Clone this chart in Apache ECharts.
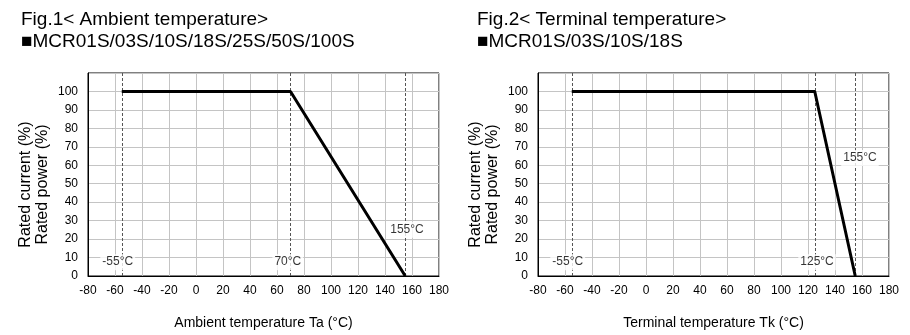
<!DOCTYPE html>
<html>
<head>
<meta charset="utf-8">
<script src="https://cdn.jsdelivr.net/npm/echarts@6/dist/echarts.min.js"></script>
<style>
html,body{margin:0;padding:0;background:#fff;}
#c{width:910px;height:335px;}
</style>
</head>
<body>
<div id="c"></div>
<script>
// ---- data ----
var titles1 = ["Fig.1< Ambient temperature>", "\u25A0MCR01S/03S/10S/18S/25S/50S/100S"];
var titles2 = ["Fig.2< Terminal temperature>", "\u25A0MCR01S/03S/10S/18S"];
var xNames = ["Ambient temperature Ta (\u00B0C)", "Terminal temperature Tk (\u00B0C)"];
var yName = "Rated current (%)\nRated power (%)";
var xRange = [-80, 180, 20];
var yRange = [0, 110, 10];
var curve1 = [[-55, 100], [70, 100], [155, 0]];
var curve2 = [[-55, 100], [125, 100], [155, 0]];
var marks1 = [-55, 70, 155];
var marks2 = [-55, 125, 155];
var labels1 = [[-58, 7.5, "-55\u00B0C"], [68, 7.5, "70\u00B0C"], [156.3, 25, "155\u00B0C"]];
var labels2 = [[-58, 7.5, "-55\u00B0C"], [126.7, 7.5, "125\u00B0C"], [158.5, 64, "155\u00B0C"]];

var FONT = "Arial, 'Liberation Sans', sans-serif";
var chart = echarts.init(document.getElementById('c'), null, {renderer: 'canvas'});

function xAxis(i) {
  return {
    type: 'value', gridIndex: i, min: xRange[0], max: xRange[1], interval: xRange[2],
    name: xNames[i], nameLocation: 'middle', nameGap: 40,
    nameTextStyle: {fontFamily: FONT, fontSize: 14, color: '#000'},
    axisLine: {show: true, onZero: false, lineStyle: {color: '#000', width: 1}},
    axisTick: {show: false},
    axisLabel: {fontFamily: FONT, fontSize: 12, color: '#000', margin: 9},
    splitLine: {show: true, lineStyle: {color: '#c4c4c4', width: 1}}
  };
}
function yAxis(i) {
  return {
    type: 'value', gridIndex: i, min: yRange[0], max: yRange[1], interval: yRange[2],
    name: yName, nameLocation: 'middle', nameGap: 37, nameRotate: 90,
    nameTextStyle: {fontFamily: FONT, fontSize: 16, lineHeight: 17, color: '#000', padding: [0, 20, 0, 0]},
    axisLine: {show: true, onZero: false, lineStyle: {color: '#000', width: 1}},
    axisTick: {show: false},
    axisLabel: {fontFamily: FONT, fontSize: 12, color: '#000', margin: 10,
      formatter: function (v) { return v >= yRange[1] ? '' : String(v); }},
    splitLine: {show: true, lineStyle: {color: '#c4c4c4', width: 1}}
  };
}
function curveSeries(i, data, marks) {
  return {
    type: 'line', xAxisIndex: i, yAxisIndex: i, data: data, symbol: 'none',
    lineStyle: {color: '#000', width: 3}, z: 5, animation: false,
    markLine: {
      silent: true, symbol: 'none', animation: false, z: 1,
      lineStyle: {type: [3, 2], color: '#555', width: 1},
      label: {show: false},
      data: marks.map(function (m) { return [{coord: [m, yRange[0]]}, {coord: [m, yRange[1]]}]; })
    }
  };
}
function labelSeries(i, labels) {
  return {
    type: 'scatter', xAxisIndex: i, yAxisIndex: i, symbolSize: 1, z: 20, animation: false,
    itemStyle: {color: 'rgba(0,0,0,0)'},
    data: labels.map(function (l) { return {value: [l[0], l[1]], name: l[2]}; }),
    label: {show: true, position: 'inside', formatter: function (p) { return p.name; },
      fontFamily: FONT, fontSize: 12, color: '#000', backgroundColor: '#ffffff', padding: [2, 2]}
  };
}

chart.setOption({
  backgroundColor: '#fff',
  animation: false,
  title: [
    {text: titles1.join('\n'), left: 16, top: 4, textStyle: {fontFamily: FONT, fontSize: 19, fontWeight: 'normal', color: '#000', lineHeight: 22}},
    {text: titles2.join('\n'), left: 472, top: 4, textStyle: {fontFamily: FONT, fontSize: 19, fontWeight: 'normal', color: '#000', lineHeight: 22}}
  ],
  grid: [
    {left: 88, top: 73, width: 351, height: 205, show: true, borderColor: '#000', borderWidth: 1, backgroundColor: '#fff'},
    {left: 538, top: 73, width: 351, height: 205, show: true, borderColor: '#000', borderWidth: 1, backgroundColor: '#fff'}
  ],
  xAxis: [xAxis(0), xAxis(1)],
  yAxis: [yAxis(0), yAxis(1)],
  series: [curveSeries(0, curve1, marks1), curveSeries(1, curve2, marks2), labelSeries(0, labels1), labelSeries(1, labels2)]
});
</script>
</body>
</html>
